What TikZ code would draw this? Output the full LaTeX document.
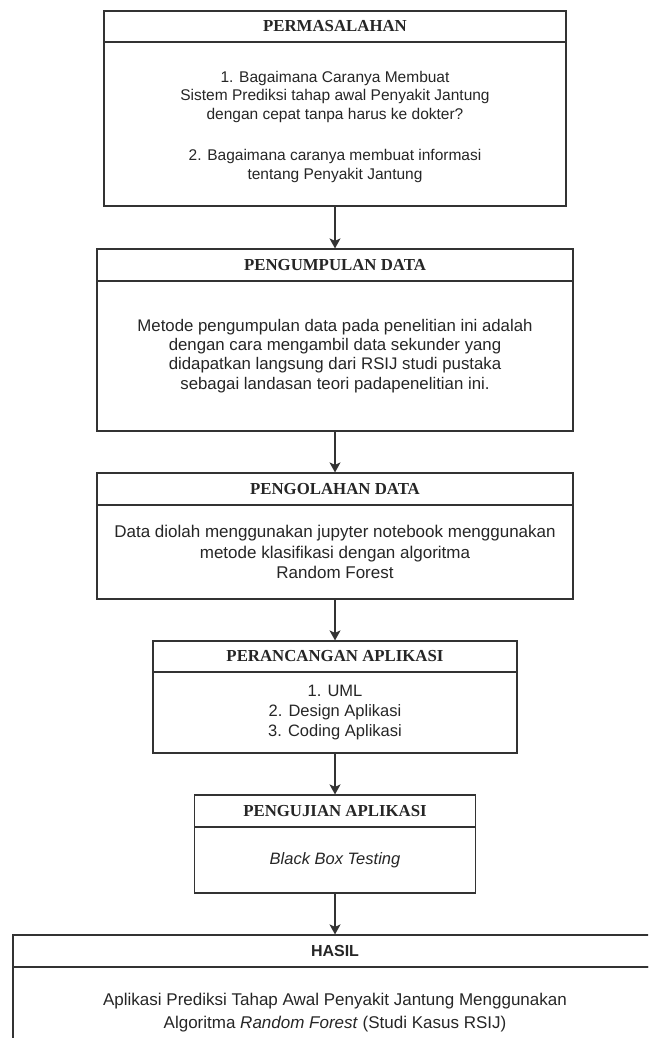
\documentclass[tikz,border=0pt]{standalone}
\usepackage{fontspec}
\setmainfont{Liberation Sans}
\newfontfamily\hdrserif{Liberation Serif}
\usetikzlibrary{arrows.meta}
\definecolor{edge}{HTML}{333333}
\definecolor{ink}{HTML}{262626}
\tikzset{
  boxline/.style={draw=edge, line width=1.2pt, rectangle, inner sep=0pt, text=ink},
  hdr/.style={boxline, minimum height=31pt, font=\hdrserif\bfseries\fontsize{16.8}{19}\selectfont},
  hdrsans/.style={boxline, minimum height=32pt, font=\bfseries\fontsize{16}{19}\selectfont},
  bodybox/.style={boxline, align=center},
  flow/.style={draw=edge, line width=1.3pt, -{Stealth[length=10pt,width=11pt,inset=2.5pt]}}
}
\begin{document}
\begin{tikzpicture}[x=1pt,y=-1pt]
\useasboundingbox[fill=white] (0,0) rectangle (648,1038);
\clip (0,0) rectangle (648,1038);
% Box 1
\node[hdr, minimum width=462pt] (h1) at (335,26.5) {PERMASALAHAN};
\node[bodybox, minimum width=462pt, minimum height=164pt, font=\fontsize{15.5}{18.5}\selectfont] (b1) at (335,124)
  {};
\node[align=center, text=ink, inner sep=0pt, font=\fontsize{15.5}{18.5}\selectfont] (t1) at (335,126.5)
  {1. Bagaimana Caranya Membuat\\Sistem Prediksi tahap awal Penyakit Jantung\\dengan cepat tanpa harus ke dokter?\\[23pt]2. Bagaimana caranya membuat informasi\\tentang Penyakit Jantung};
% Box 2
\node[hdr, minimum width=476pt, minimum height=32pt] (h2) at (335,265) {PENGUMPULAN DATA};
\node[bodybox, minimum width=476pt, minimum height=150pt, font=\fontsize{16.8}{19.3}\selectfont] (b2) at (335,356)
  {Metode pengumpulan data pada penelitian ini adalah\\dengan cara mengambil data sekunder yang\\didapatkan langsung dari RSIJ studi pustaka\\sebagai landasan teori padapenelitian ini.};
% Box 3
\node[hdr, minimum width=476pt, minimum height=32pt] (h3) at (335,489) {PENGOLAHAN DATA};
\node[bodybox, minimum width=476pt, minimum height=94pt, font=\fontsize{17}{20.5}\selectfont] (b3) at (335,552)
  {Data diolah menggunakan jupyter notebook menggunakan\\metode klasifikasi dengan algoritma\\Random Forest};
% Box 4
\node[hdr, minimum width=364pt] (h4) at (335,656.5) {PERANCANGAN APLIKASI};
\node[bodybox, minimum width=364pt, minimum height=81pt, font=\fontsize{16.5}{20}\selectfont] (b4) at (335,712.5)
  {1. UML\\2. Design Aplikasi\\3. Coding Aplikasi};
% Box 5
\node[hdr, minimum width=281pt, minimum height=32pt] (h5) at (335,811) {PENGUJIAN APLIKASI};
\node[bodybox, minimum width=281pt, minimum height=66pt, font=\fontsize{16.5}{20}\selectfont] (b5) at (335,860)
  {\itshape Black Box Testing};
% Box 6 (HASIL)
\node[hdrsans, minimum width=644pt] (h6) at (335,951) {HASIL};
\node[bodybox, minimum width=644pt, minimum height=92pt, font=\fontsize{17}{22}\selectfont] (b6) at (335,1013)
  {Aplikasi Prediksi Tahap Awal Penyakit Jantung Menggunakan\\[1pt]Algoritma \textit{Random Forest} (Studi Kasus RSIJ)};
% Connectors
\draw[flow] (b1.south) -- (h2.north);
\draw[flow] (b2.south) -- (h3.north);
\draw[flow] (b3.south) -- (h4.north);
\draw[flow] (b4.south) -- (h5.north);
\draw[flow] (b5.south) -- (h6.north);
\end{tikzpicture}
\end{document}
